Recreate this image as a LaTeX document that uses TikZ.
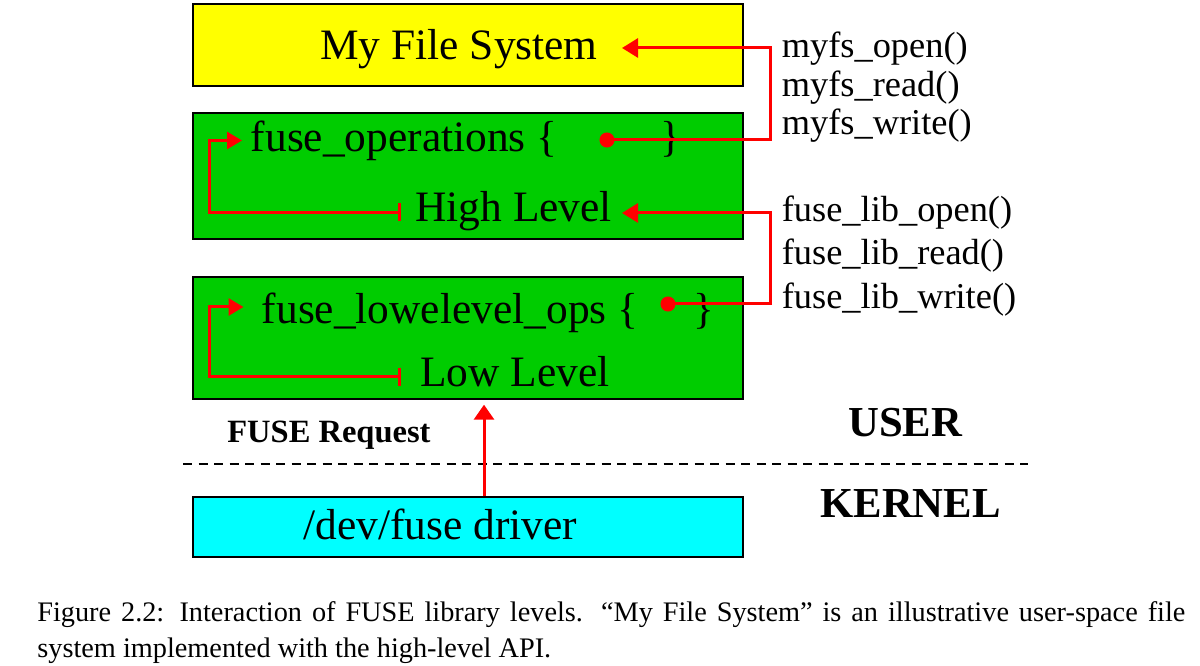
\documentclass[tikz,border=0pt]{standalone}
\usepackage{fontspec}
\setmainfont{Liberation Serif}
\usetikzlibrary{arrows.meta}

\definecolor{fsyellow}{RGB}{255,255,0}
\definecolor{fsgreen}{RGB}{0,204,0}
\definecolor{fscyan}{RGB}{0,255,255}

\begin{document}
\begin{tikzpicture}[
	box/.style={draw, line width=0.8pt, minimum width=11cm, inner sep=0pt},
	big/.style={anchor=base west, inner sep=0pt, font=\fontsize{24.7}{30}\selectfont},
	call/.style={anchor=base west, inner sep=0pt, font=\fontsize{20.7}{25}\selectfont},
	side/.style={anchor=base west, inner sep=0pt, font=\bfseries\fontsize{24.3}{29}\selectfont},
	wire/.style={draw=red, line width=1.7pt},
	dotarrow/.style={{Circle[length=0.3cm]}-{Triangle[length=0.32cm, width=0.38cm]}},
	bararrow/.style={{Bar[width=0.36cm]}-{Triangle[length=0.30cm, width=0.34cm]}},
	]
	\useasboundingbox (0, 0) rectangle (24, 13.32);

	% the four layers
	\node[box, fill=fsyellow, minimum height=1.64cm] (fsbox) at (9.36, 12.42) {};
	\node[box, fill=fsgreen, minimum height=2.52cm] (hlbox) at (9.36, 9.80) {};
	\node[box, fill=fsgreen, minimum height=2.44cm] (llbox) at (9.36, 6.56) {};
	\node[box, fill=fscyan, minimum height=1.20cm] (drvbox) at (9.36, 2.78) {};

	\node[big] (fstext) at (6.40, 12.12) {My File System};
	\node[big] (opstext) at (5.01, 10.29) {fuse\_operations \{};
	\node[big] (opsclose) at (13.20, 10.29) {\}};
	\node[big] (hltext) at (8.30, 8.89) {High Level};
	\node[big] (lowtext) at (5.23, 6.85) {fuse\_lowelevel\_ops \{};
	\node[big] (lowclose) at (13.87, 6.85) {\}};
	\node[big] (lltext) at (8.40, 5.59) {Low Level};
	\node[big] (drvtext) at (6.06, 2.52) {/dev/fuse driver};

	% calls on the right
	\node[call] (myopen) at (15.63, 12.17) {myfs\_open()};
	\node[call] (myread) at (15.63, 11.39) {myfs\_read()};
	\node[call] (mywrite) at (15.63, 10.62) {myfs\_write()};
	\node[call] (libopen) at (15.63, 8.89) {fuse\_lib\_open()};
	\node[call] (libread) at (15.63, 8.02) {fuse\_lib\_read()};
	\node[call] (libwrite) at (15.63, 7.15) {fuse\_lib\_write()};

	% user / kernel split
	\node[side, font=\bfseries\fontsize{18.5}{22}\selectfont] (request) at (4.54, 4.46) {FUSE Request};
	\node[side] (user) at (16.96, 4.58) {USER};
	\node[side] (kernel) at (16.40, 2.96) {KERNEL};
	\draw[line width=0.8pt, dash pattern=on 0.18cm off 0.13cm] (3.66, 4.04) -- (20.56, 4.04);

	% connector ends
	\coordinate (railx) at (15.40, 0);
	\coordinate (loopx) at (4.19, 0);
	\coordinate (reqx) at (9.68, 0);
	\coordinate (fsin) at (12.44, 12.36);
	\coordinate (hlin) at (12.44, 9.06);
	\coordinate (hldot) at (11.99, 10.52);
	\coordinate (lldot) at (13.21, 7.24);
	\coordinate (hlbar) at (8.01, 9.07);
	\coordinate (llbar) at (8.01, 5.78);
	\coordinate (opsin) at (4.84, 10.51);
	\coordinate (lowin) at (4.87, 7.18);

	\draw[wire, dotarrow] (hldot) -| (fsin -| railx) -- (fsin);
	\draw[wire, dotarrow] (lldot) -| (hlin -| railx) -- (hlin);
	\draw[wire, bararrow] (hlbar) -| (opsin -| loopx) -- (opsin);
	\draw[wire, bararrow] (llbar) -| (lowin -| loopx) -- (lowin);
	\draw[wire, -{Triangle[length=0.30cm, width=0.40cm]}, shorten >=0.1cm] (drvbox.north -| reqx) -- (llbox.south -| reqx);

	% caption
	\node[anchor=base west, inner sep=0pt, font=\fontsize{16.1}{19}\selectfont] (cap1) at (0.74, 0.88)
		{\hbox to 22.96cm{Figure 2.2: Interaction of FUSE library levels. “My File System” is an illustrative user-space file}};
	\node[anchor=base west, inner sep=0pt, font=\fontsize{16.1}{19}\selectfont] (cap2) at (0.74, 0.16)
		{system implemented with the high-level API.};
\end{tikzpicture}
\end{document}
